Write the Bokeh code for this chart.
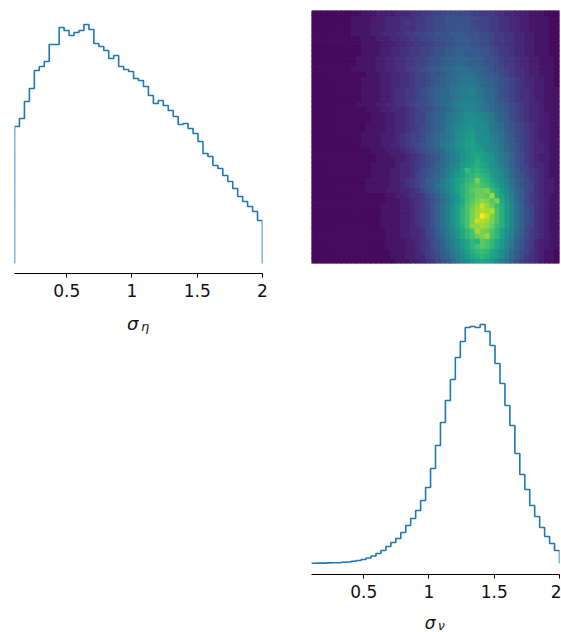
import numpy as np
from bokeh.plotting import figure
from bokeh.layouts import row, column
from bokeh.models import FixedTicker, ColumnDataSource
from bokeh.core.properties import value
from bokeh.transform import linear_cmap
from bokeh.palettes import Viridis256
from bokeh.embed import file_html
from bokeh.resources import INLINE

# ---------------- data ----------------
BIN_LO, BIN_HI, N_BINS = 0.1, 2.0, 50
tick_values = [0.5, 1, 1.5, 2]
tick_labels = ["0.5", "1", "1.5", "2"]

# marginal histogram of sigma_eta (50 bins on 0.1 .. 2)
sigma_eta_counts = [137, 145, 162, 175, 193, 197, 202, 219, 219, 236,
                    233, 228, 231, 233, 239, 234, 220, 217, 213, 205,
                    208, 197, 194, 192, 185, 183, 177, 168, 160, 163,
                    158, 153, 147, 139, 140, 135, 130, 122, 110, 107,
                    98, 95, 88, 82, 75, 67, 62, 57, 52, 43]

# marginal histogram of sigma_nu (50 bins on 0.1 .. 2)
sigma_nu_counts = [0.3, 0.4, 0.4, 0.6, 0.7, 0.8, 1.2, 1.5, 2.2, 3,
                   4, 5.5, 7.5, 10, 13, 17, 21, 25, 31, 38,
                   45, 53, 63, 76, 95, 118, 141, 163, 184, 206,
                   222, 236, 237, 236, 239, 232, 218, 200, 180, 158,
                   138, 110, 89, 74, 58, 47, 36, 27, 20, 13]

# 2D histogram: rows = sigma_eta bins (top row first), columns = sigma_nu bins,
# each character is a count level in base 36 (0..z)
heat_level_max = 35
heat_rows_top_to_bottom = [
    "1111111111 2223333444 5566777888 8877666554 4333222111",
    "1111111122 2233344455 5667788999 9988776655 4433222211",
    "1111111122 2233344456 5667788999 9987776655 4433222211",
    "1111111122 2233344455 5667788999 9988776655 4433222211",
    "1111111122 2233444556 67788999aa a999887665 5443322211",
    "1111111111 2223334455 667788999a aa99887665 5443322211",
    "1111111111 2222333445 566778899a aa99887665 5443322211",
    "1111111111 2222334455 6677899aab bbaa998766 5443322211",
    "1111111111 2222334455 6677899aab baaa998766 5443322211",
    "1111111112 2223344556 677899abbc ccbba99876 6544332221",
    "1111111112 2223344556 677899abbc cbbba99876 6544332221",
    "1111111122 2223344556 7789aabccd ddccba9887 6554332221",
    "1111111111 1222334455 677899abcc dddcbaa987 6554332221",
    "1111111111 2222334455 67789abccd eeedcbba98 7654433221",
    "1111111111 2222334455 67789abcdd eeedcbba98 7654433221",
    "1111111111 2222334556 6789abccde fffedcca98 7655433222",
    "1111111111 2222334556 6789abccde ffgedcca98 7655433222",
    "1111111111 2222334556 6789abccde fffedcca98 7655433222",
    "1111111112 2223344556 7889abcdef gggfedcba9 8765443222",
    "1111111111 1222334445 67889abcde fggfedcba9 8765443222",
    "1111111111 1122233445 6779abcdef ghhggfecba 8765443322",
    "1111111111 1122233445 6779abcdef ghhhgfecba 8765443322",
    "1111111111 1222233445 6789abcefg hiihhgedca 9876543322",
    "1111111111 1222233445 6789abcefg hijhhgedca 9876543322",
    "1111111111 2222333456 778abcdefh ijjihhfedb a876543322",
    "1111111111 2222333456 778abcdefh ijkihhfedb a876543322",
    "1111111111 2222334456 789abcefgi jkkjihgfdc a976544322",
    "1111111111 1122233345 6789abcefh ijkjjhgfdc a976544322",
    "1111111111 1112223334 56789acdfg ijklkjiged b986543322",
    "1111111111 1112222334 56789acdfg ijkmkjiged b986543322",
    "1111111111 1122222344 56789bcegh jklmlkihfd b987544322",
    "1111111111 1122223344 5689abdegi komnmljige ca87654322",
    "1111111111 1122223344 5789acdfhj kmnonmkihe ca97654322",
    "1111111111 1222223345 678abcegik lnosonljhf db98654332",
    "1111111111 1222223345 679abdfgik mopqpomkig db98754332",
    "1111111111 1222233344 5689bcegik moqrrsomjg eca8754332",
    "1111111111 1111122334 55689bdfhj moprrqumkh fca8654322",
    "1111111111 1111122233 45679acehj loqstsqsli fca8654322",
    "1111111111 1111222233 45679bdfhk mprtwtromj gdb8754322",
    "1111111111 1111222233 45679bdfik npsuvuvpmj gdb9754322",
    "1111111111 1111222233 45679bdfik npsuzwspmj gdb9754322",
    "1111111111 1111222233 45679bdfik npswvuspmj gdb9754322",
    "1111111111 1111222233 45679bdfhk mpttutromj gdb8754322",
    "1111111111 1111122233 44578acegi lnpusrpnkh fca8654322",
    "1111111111 1111122233 44578acegi lnprsupnkh fca8654322",
    "1111111111 1111122223 345689bdfh jlnmqpnljg eb97643322",
    "1111111111 1111122223 345689bdfh jlnpqpnljg eb97643322",
    "1111111111 1111112223 345679aceg ikmnonljhf ca87543221",
    "1111111111 1111112223 344678abdf hjlmnmkjhe ca86543221",
    "1111111111 1111111222 3345689ace ghjklkjhfd b976543221",
]

# ---------------- helpers ----------------
edges = np.linspace(BIN_LO, BIN_HI, N_BINS + 1)
LINE = "#1f77b4"
FONT = "DejaVu Sans"
TXT = "#111111"


def step_outline(counts):
    xs, ys = [edges[0]], [0.0]
    for k, c in enumerate(counts):
        xs += [edges[k], edges[k + 1]]
        ys += [c, c]
    xs.append(edges[-1])
    ys.append(0.0)
    return xs, ys


def clean(p):
    p.xgrid.visible = False
    p.ygrid.visible = False
    p.outline_line_color = None
    p.background_fill_color = "white"
    p.border_fill_color = "white"


def style_hist(p):
    clean(p)
    ax = p.xaxis[0]
    ax.ticker = FixedTicker(ticks=tick_values)
    ax.major_label_overrides = {v: s for v, s in zip(tick_values, tick_labels)}
    ax.minor_tick_line_color = None
    ax.major_tick_in = 0
    ax.major_tick_out = 4
    ax.major_tick_line_color = "black"
    ax.axis_line_color = "black"
    ax.axis_line_width = 1.2
    ax.major_label_text_font = FONT
    ax.major_label_text_font_size = "17px"
    ax.major_label_text_color = TXT
    ax.major_label_standoff = 6


def label_strip(width, height, left, right, sub, base_y, size=18, sub_size=13):
    # a strip under an axis that carries the axis title "σ" with a subscript
    q = figure(width=width, height=height, x_range=(BIN_LO, BIN_HI), y_range=(height, 0),
               output_backend="svg", toolbar_location=None,
               x_axis_location=None, y_axis_location=None,
               min_border_left=left, min_border_right=right,
               min_border_top=0, min_border_bottom=0)
    clean(q)
    q.text(x=[1.05], y=[base_y], text=["σ"], text_font=value(FONT),
           text_font_style="italic", text_font_size=f"{size}px", text_color=TXT,
           text_align="right", text_baseline="alphabetic")
    q.text(x=[1.07], y=[base_y + 3], text=[sub], text_font=value(FONT),
           text_font_style="italic", text_font_size=f"{sub_size}px", text_color=TXT,
           text_align="left", text_baseline="alphabetic")
    return q


# ---------------- top-left: sigma_eta histogram ----------------
pA = figure(width=290, height=307, x_range=(BIN_LO, BIN_HI), y_range=(-10, 253),
            output_backend="svg", toolbar_location=None, y_axis_location=None,
            min_border_left=14, min_border_right=28, min_border_top=10,
            min_border_bottom=34)
xs, ys = step_outline(sigma_eta_counts)
pA.line(xs, ys, line_color=LINE, line_width=1.6)
style_hist(pA)
labA = label_strip(290, 632 - 307, 14, 28, "η", 16)

# ---------------- top-right: 2D histogram ----------------
rows_b2t = [r.replace(" ", "") for r in heat_rows_top_to_bottom][::-1]
left, right, bottom, top, val = [], [], [], [], []
for i, r in enumerate(rows_b2t):
    r = (r + r[-1] * N_BINS)[:N_BINS]
    for j, ch in enumerate(r):
        left.append(edges[j]); right.append(edges[j + 1])
        bottom.append(edges[i]); top.append(edges[i + 1])
        val.append(int(ch, 36))
src = ColumnDataSource(dict(left=left, right=right, bottom=bottom, top=top, val=val))
cmap = linear_cmap("val", Viridis256, 0, heat_level_max)

pB_h = 297
pB = figure(width=271, height=pB_h, x_range=(BIN_LO, BIN_HI), y_range=(BIN_LO, BIN_HI),
            output_backend="svg", toolbar_location=None,
            x_axis_location=None, y_axis_location=None,
            min_border_left=21, min_border_right=2, min_border_top=10,
            min_border_bottom=pB_h - 10 - 253)
pB.quad(left="left", right="right", bottom="bottom", top="top", source=src,
        fill_color=cmap, line_color=cmap, line_width=1.0)
clean(pB)

# ---------------- bottom-right: sigma_nu histogram ----------------
pC_h = 307
pC = figure(width=271, height=pC_h, x_range=(BIN_LO, BIN_HI), y_range=(-11, 253),
            output_backend="svg", toolbar_location=None, y_axis_location=None,
            min_border_left=21, min_border_right=2, min_border_top=13,
            min_border_bottom=30)
xs, ys = step_outline(sigma_nu_counts)
pC.line(xs, ys, line_color=LINE, line_width=1.6)
style_hist(pC)
labC_h = 632 - pB_h - pC_h
labC = label_strip(271, labC_h, 21, 2, "ν", 18, size=17, sub_size=12)

layout = row(column(pA, labA), column(pB, pC, labC))
open("out.html", "w").write(file_html(layout, INLINE))
